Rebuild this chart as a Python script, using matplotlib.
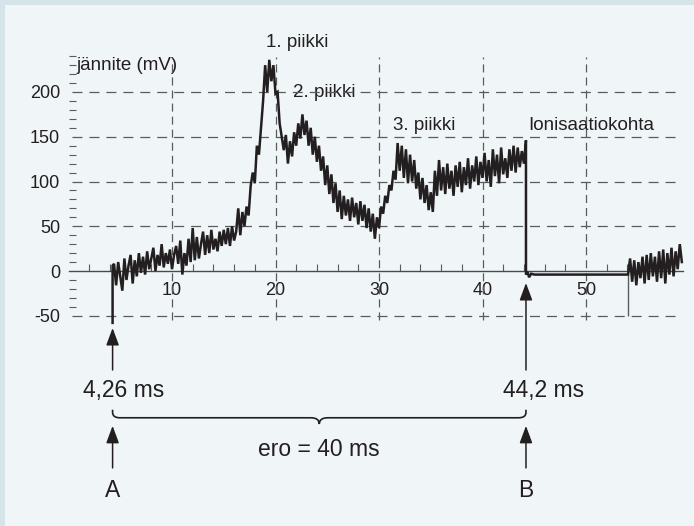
import numpy as np
import matplotlib
matplotlib.use("Agg")
import matplotlib.pyplot as plt
from matplotlib.path import Path
from matplotlib.patches import PathPatch, Rectangle

plt.rcParams['font.family'] = ['Liberation Sans', 'DejaVu Sans']
plt.rcParams['lines.scale_dashes'] = False

# ---------------- data ----------------
t_a = 4.26          # trigger A (ms)
t_b = 44.2          # ionisation point B (ms)
t_resume = 54.06    # signal resumes (ms)
dt = 0.2            # sampling step of the read-off trace (ms)
trace_t0 = 4.4      # first sample after A

a_drop = [-58, 6]   # vertical start of the trace at A

# trace from 4.4 ms to 44.0 ms (mV)
trace_mv = [
    8, -16, 10, -6, -22,
    14, -10, 6, 18, -14,
    12, -6, 20, -2, 16,
    -4, 22, 2, 14, 26,
    0, 18, 6, 30, 4,
    20, 8, 24, 2, 18,
    28, 8, 34, -4, 20,
    6, 36, 10, 48, 12,
    38, 14, 30, 44, 18,
    40, 20, 46, 24, 36,
    22, 44, 28, 46, 30,
    48, 28, 50, 34, 44,
    70, 40, 66, 50, 72,
    62, 95, 110, 98, 140,
    130, 160, 190, 230, 200,
    236, 212, 230, 198, 200,
    165, 150, 135, 152, 120,
    145, 128, 155, 140, 165,
    148, 175, 152, 168, 140,
    160, 130, 150, 122, 140,
    112, 128, 96, 118, 86,
    108, 76, 98, 66, 90,
    58, 84, 62, 80, 56,
    82, 60, 76, 52, 78,
    56, 74, 48, 70, 44,
    64, 36, 60, 48, 72,
    64, 84, 76, 96, 90,
    112, 102, 143, 112, 140,
    104, 136, 98, 130, 100,
    124, 92, 110, 80, 104,
    76, 96, 68, 88, 66,
    112, 84, 124, 90, 116,
    86, 120, 92, 112, 84,
    118, 94, 122, 88, 116,
    96, 126, 92, 118, 100,
    128, 96, 122, 104, 132,
    100, 124, 94, 136, 106,
    130, 98, 138, 108, 126,
    104, 136, 112, 140, 110,
    138, 116, 134, 120,
]
b_peak = 146

# after the drop at B
post_t = [44.2, 44.35, 44.5, 44.7, 45.0, 54.06]
post_mv = [-4, -1, -7, -3, -4, -4]

# tail after 54.06 ms
tail_mv = [-4, 14, -12, 12, -16, 10, -8, 16, -14, 18, -10, 20, -6, 16,
           -12, 22, -8, 24, -14, 20, -4, 26, -6, 22, 2, 30, 10]

x_ticks = [10, 20, 30, 40, 50]
y_ticks = [-50, 0, 50, 100, 150, 200]
y_grid = [200, 150, 100, 50, -50]

peak_labels = ["1. piikki", "2. piikki", "3. piikki", "Ionisaatiokohta"]
peak_pos = [(22.1, 255, 'center'), (21.7, 199, 'left'), (31.35, 163, 'left'), (44.4, 163, 'left')]

# ---------------- figure ----------------
W, H = 694, 526
fig = plt.figure(figsize=(W / 100, H / 100), dpi=100)
fig.patch.set_facecolor('#d4e4e9')
fig.add_artist(Rectangle((5 / W, 0), 1, (H - 5) / H, transform=fig.transFigure,
                         facecolor='#f0f6f7', edgecolor='none', zorder=0))

# axes: x 0..59.4 -> px 68.5..683.3 ; y -60..240 -> px 324.7..56.2
ax = fig.add_axes([68.5 / W, (H - 324.7) / H, (683.3 - 68.5) / W, (324.7 - 56.2) / H])
ax.set_facecolor('none')
ax.set_xlim(0, 59.4)
ax.set_ylim(-60, 240)

ink = '#231f20'
grey = '#5a5b5d'

for s in ['top', 'right', 'left']:
    ax.spines[s].set_visible(False)
ax.spines['bottom'].set_position(('data', 0))
ax.spines['bottom'].set_color('#4a4a4c')
ax.spines['bottom'].set_linewidth(1.0)

ax.set_xticks(x_ticks)
ax.set_xticklabels([str(v) for v in x_ticks])
ax.set_xticks(np.arange(2, 59, 2), minor=True)
ax.tick_params(axis='x', which='major', length=0, pad=8, labelsize=13, labelcolor=ink)
ax.tick_params(axis='x', which='minor', direction='in', length=5, width=0.8, color=grey)

ax.set_yticks(y_ticks)
ax.set_yticklabels([str(v) for v in y_ticks])
ax.set_yticks(np.arange(-50, 241, 10), minor=True)
ax.tick_params(axis='y', which='major', length=0, pad=6, labelsize=13, labelcolor=ink)
ax.tick_params(axis='y', which='minor', direction='in', length=5, width=0.8, color=grey)

# grid
ax.hlines(y_grid, 0.34, 59.3, colors=grey, linewidth=0.9, linestyles=(0, (7.2, 5)), zorder=3)
ax.vlines(x_ticks, -55, 239, colors=grey, linewidth=0.9, linestyles=(0, (5.8, 3.6)), zorder=3)

# trace
main_t = trace_t0 + dt * np.arange(len(trace_mv))
tail_t = t_resume + dt * np.arange(len(tail_mv))
xs = np.concatenate([[t_a, t_a], main_t, [t_b], post_t, tail_t])
ys = np.concatenate([a_drop, trace_mv, [b_peak], post_mv, tail_mv])
ax.plot(xs, ys, color=ink, linewidth=1.8, solid_joinstyle='miter', zorder=4, clip_on=False)

ax.vlines([t_resume], -50, 0, colors=grey, linewidth=1.0, zorder=3)

# texts on the plot
ax.text(0.8, 230, "jännite (mV)", fontsize=13.5, color=ink, ha='left', va='center', zorder=1)
for lab, (px, py, ha) in zip(peak_labels, peak_pos):
    ax.text(px, py, lab, fontsize=13.5, color=ink, ha=ha, va='center', zorder=1, clip_on=False)

# arrows
ap = dict(arrowstyle='-|>,head_length=0.7,head_width=0.26', mutation_scale=15,
          lw=1.1, color=ink, shrinkA=0, shrinkB=0)
ax.annotate('', xy=(t_a, -63.7), xytext=(t_a, -110.6), arrowprops=ap, annotation_clip=False)
ax.annotate('', xy=(t_b, -13.4), xytext=(t_b, -110.6), arrowprops=ap, annotation_clip=False)
ax.annotate('', xy=(t_a, -173), xytext=(t_a, -220), arrowprops=ap, annotation_clip=False)
ax.annotate('', xy=(t_b, -173), xytext=(t_b, -220), arrowprops=ap, annotation_clip=False)

ax.text(t_a - 2.86, -133, "4,26 ms", fontsize=16.5, color=ink, ha='left', va='center', clip_on=False)
ax.text(t_b - 2.22, -133, "44,2 ms", fontsize=16.5, color=ink, ha='left', va='center', clip_on=False)
mid = (t_a + t_b) / 2
ax.text(mid, -200, "ero = 40 ms", fontsize=16.5, color=ink, ha='center', va='center', clip_on=False)
ax.text(t_a, -245, "A", fontsize=16.5, color=ink, ha='center', va='center', clip_on=False)
ax.text(t_b, -245, "B", fontsize=16.5, color=ink, ha='center', va='center', clip_on=False)

# brace
top, base, tip = -155, -164, -171
verts = [(t_a, top), (t_a, top - 3), (t_a, base), (t_a + 0.7, base),
         (mid - 0.8, base), (mid, base), (mid, tip),
         (mid, base), (mid + 0.8, base),
         (t_b - 0.7, base), (t_b, base), (t_b, top - 3), (t_b, top)]
codes = [Path.MOVETO, Path.LINETO, Path.CURVE3, Path.CURVE3,
         Path.LINETO, Path.CURVE3, Path.CURVE3,
         Path.CURVE3, Path.CURVE3,
         Path.LINETO, Path.CURVE3, Path.CURVE3, Path.LINETO]
ax.add_patch(PathPatch(Path(verts, codes), facecolor='none', edgecolor=ink, lw=1.2, clip_on=False))

fig.savefig("out.png", dpi=100, facecolor=fig.get_facecolor())
